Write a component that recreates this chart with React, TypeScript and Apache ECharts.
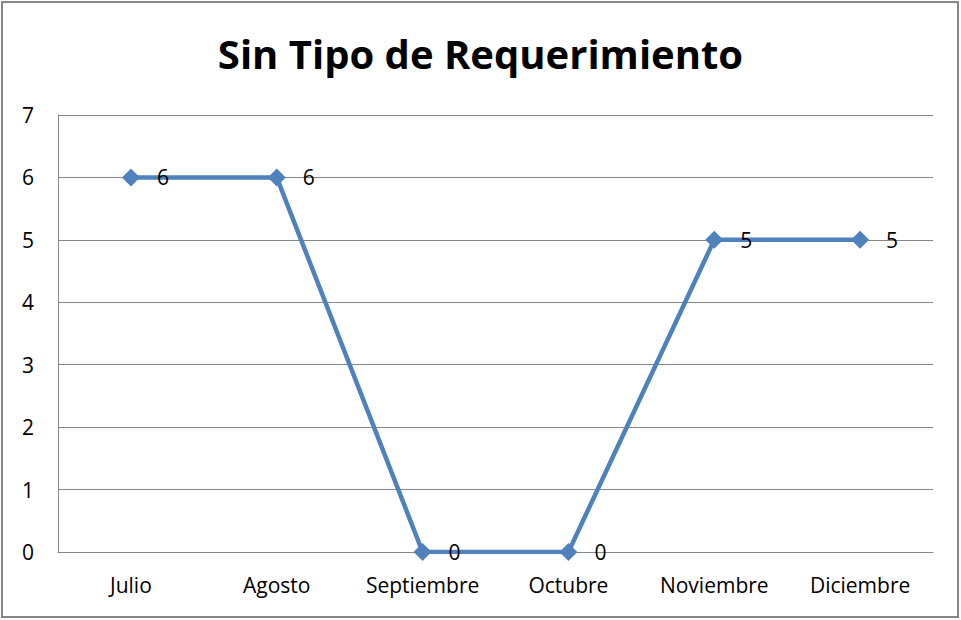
import React, { useEffect, useRef } from "react";
import * as echarts from "echarts";

const categories = ["Julio", "Agosto", "Septiembre", "Octubre", "Noviembre", "Diciembre"];
const values = [6, 6, 0, 0, 5, 5];
const titleText = "Sin Tipo de Requerimiento";

const FONT = "'Open Sans', 'Liberation Sans', sans-serif";

export default function App() {
  const ref = useRef<HTMLDivElement>(null);
  useEffect(() => {
    document.body.style.margin = "0";
    const chart = echarts.init(ref.current!, null, { renderer: "svg" });
    chart.setOption({
      animation: false,
      backgroundColor: "#ffffff",
      title: {
        text: titleText,
        left: "center",
        top: 28,
        textStyle: { fontFamily: FONT, fontSize: 40, fontWeight: "bold", color: "#000" },
      },
      graphic: [
        {
          type: "rect",
          shape: { x: 2, y: 2, width: 956, height: 615 },
          style: { fill: "none", stroke: "#868686", lineWidth: 2 },
          silent: true,
        },
      ],
      grid: { left: 58, right: 28, top: 115, bottom: 68, containLabel: false },
      xAxis: {
        type: "category",
        data: categories,
        boundaryGap: true,
        axisLine: { lineStyle: { color: "#868686", width: 1 } },
        axisTick: { show: false },
        axisLabel: { interval: 0, fontFamily: FONT, fontSize: 21, color: "#000", margin: 22 },
      },
      yAxis: {
        type: "value",
        min: 0,
        max: 7,
        interval: 1,
        axisLine: { show: true, lineStyle: { color: "#868686", width: 1 } },
        axisTick: { show: false },
        axisLabel: { fontFamily: FONT, fontSize: 21, color: "#000", margin: 24 },
        splitLine: { lineStyle: { color: "#868686", width: 1 } },
      },
      series: [
        {
          type: "line",
          data: values,
          symbol: "diamond",
          symbolSize: 18,
          lineStyle: { color: "#4F81BD", width: 4.5 },
          itemStyle: { color: "#4F81BD" },
          label: {
            show: true,
            position: "right",
            distance: 17,
            fontFamily: FONT,
            fontSize: 21,
            color: "#000",
          },
        },
      ],
    });
    return () => chart.dispose();
  }, []);
  return <div ref={ref} style={{ width: 961, height: 620 }} />;
}
